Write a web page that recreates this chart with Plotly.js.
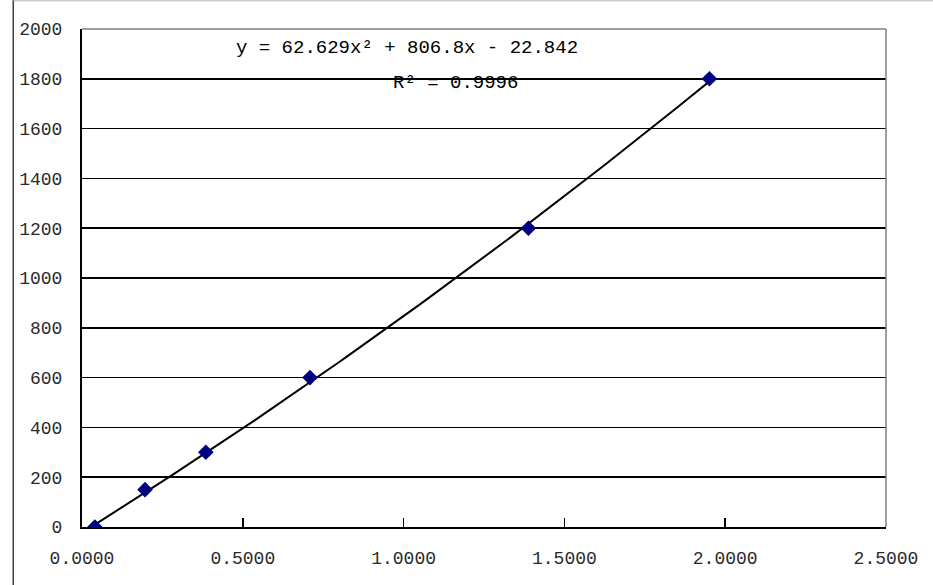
<!DOCTYPE html>
<html>
<head>
<meta charset="utf-8">
<script src="https://cdn.plot.ly/plotly-3.0.1.min.js"></script>
<style>
html,body{margin:0;padding:0;background:#fff;}
#chart{width:933px;height:585px;}
</style>
</head>
<body>
<div id="chart"></div>
<script>
// Data
const xValues = [0.040, 0.196, 0.385, 0.709, 1.388, 1.951];
const yValues = [0, 150, 300, 600, 1200, 1800];
// Trendline coefficients shown on the chart: y = a*x^2 + b*x + c
const trendCoeffs = [62.629, 806.8, -22.842];
const equationText = "y = 62.629x² + 806.8x - 22.842";
const r2Text = "R² = 0.9996";
const xTicks = [0, 0.5, 1.0, 1.5, 2.0, 2.5];
const yTicks = [0, 200, 400, 600, 800, 1000, 1200, 1400, 1600, 1800, 2000];

// Trendline curve evaluated from the displayed equation
const tx = [], ty = [];
const x0 = xValues[0], x1 = xValues[xValues.length - 1];
for (let i = 0; i <= 100; i++) {
  const x = x0 + (x1 - x0) * i / 100;
  tx.push(x);
  ty.push(trendCoeffs[0] * x * x + trendCoeffs[1] * x + trendCoeffs[2]);
}

const tickFont = {family: "Liberation Mono, DejaVu Sans Mono, monospace", size: 18, color: "#2a2a2a"};

const traces = [
  {x: tx, y: ty, mode: "lines", line: {color: "#000000", width: 2}, hoverinfo: "skip", showlegend: false},
  {x: xValues, y: yValues, mode: "markers", marker: {symbol: "diamond", size: 12, color: "#000080"}, showlegend: false}
];

const layout = {
  width: 933, height: 585,
  margin: {l: 82, r: 47, t: 29, b: 58},
  paper_bgcolor: "#ffffff", plot_bgcolor: "#ffffff",
  showlegend: false,
  xaxis: {
    range: [0, 2.5], tickvals: xTicks, tickformat: ".4f",
    ticks: "inside", ticklen: 9, tickwidth: 1.5, tickcolor: "#000",
    showgrid: false, zeroline: false,
    showline: true, linecolor: "#000", linewidth: 2,
    tickfont: tickFont, ticklabelstandoff: 13
  },
  yaxis: {
    range: [0, 2000], tickvals: yTicks, tickformat: "d",
    ticks: "", showgrid: true, gridcolor: "#000", gridwidth: 1.5,
    zeroline: false, showline: true, linecolor: "#000", linewidth: 2,
    tickfont: tickFont, ticklabelstandoff: 14
  },
  shapes: [
    {type: "line", xref: "x domain", yref: "y domain", x0: 0, x1: 1, y0: 1, y1: 1, line: {color: "#808080", width: 1.5}},
    {type: "line", xref: "x domain", yref: "y domain", x0: 1, x1: 1, y0: 0, y1: 1, line: {color: "#808080", width: 1.5}},
    {type: "line", xref: "paper", yref: "paper", x0: -0.0855, x1: -0.0855, y0: -0.12, y1: 1.06, line: {color: "#404040", width: 1.5}},
    {type: "line", xref: "paper", yref: "paper", x0: -0.0855, x1: 1.06, y0: 1.0566, y1: 1.0566, line: {color: "#b0b0b0", width: 1}}
  ],
  annotations: [
    {text: equationText, xref: "x", yref: "y", x: 1.01, y: 1925, showarrow: false,
     xanchor: "center", yanchor: "middle",
     font: {family: "Liberation Mono, DejaVu Sans Mono, monospace", size: 19, color: "#000"}},
    {text: r2Text, xref: "x", yref: "y", x: 1.16, y: 1782, showarrow: false,
     xanchor: "center", yanchor: "middle",
     font: {family: "Liberation Mono, DejaVu Sans Mono, monospace", size: 19, color: "#000"}}
  ]
};

Plotly.newPlot("chart", traces, layout, {displayModeBar: false, staticPlot: true});
</script>
</body>
</html>
